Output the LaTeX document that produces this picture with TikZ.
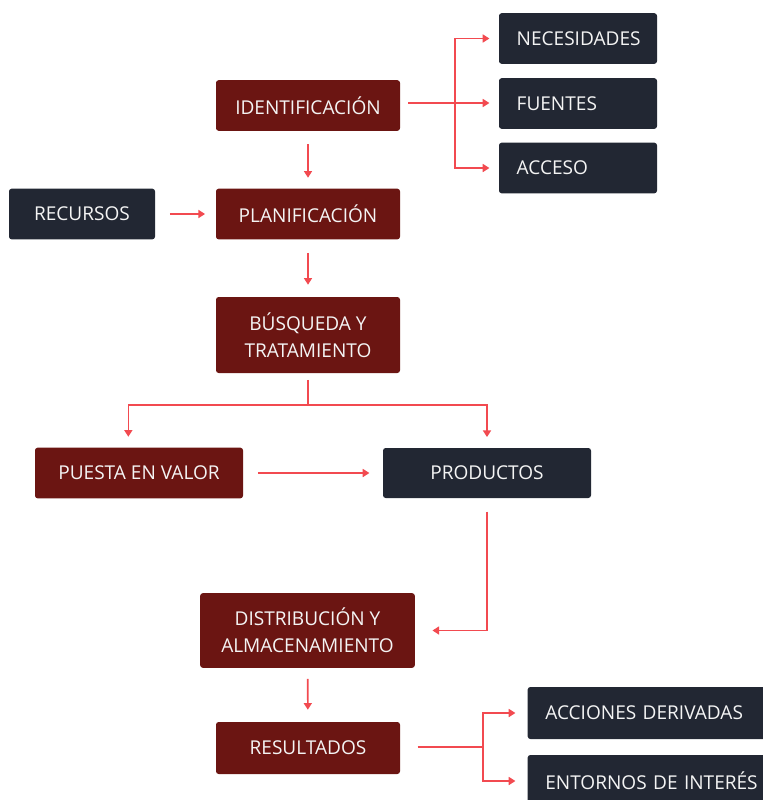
\documentclass[tikz,border=0pt]{standalone}
\usepackage{fontspec}
\setmainfont{Open Sans}
\usetikzlibrary{positioning, arrows.meta, calc}

\definecolor{stepred}{HTML}{6B1512}
\definecolor{darknavy}{HTML}{222733}
\definecolor{linkred}{HTML}{F24A50}
\definecolor{boxtext}{HTML}{F4F4F4}

\begin{document}
\begin{tikzpicture}[
    x=0.75pt, y=-0.75pt,
    stepnode/.style={rectangle, rounded corners=2pt, fill=stepred, text=boxtext, align=center,
        minimum width=138pt, minimum height=38pt, inner sep=2pt,
        font=\fontsize{14.3}{20.2}\selectfont},
    infonode/.style={rectangle, rounded corners=2pt, fill=darknavy, text=boxtext, align=left,
        inner xsep=13.25pt, minimum height=38pt, font=\fontsize{14.3}{20.2}\selectfont},
    link/.style={draw=linkred, line width=1.2pt, -{Triangle[width=6pt,length=5pt]}},
    plainlink/.style={draw=linkred, line width=1.2pt}
]
\useasboundingbox (0,0) rectangle (763,800);
\clip (0,0) rectangle (763,800);

\node[stepnode](ident) at (308,105.5){IDENTIFICACIÓN};
\node[infonode, text width=92pt](nec) at (578,38.5){NECESIDADES};
\node[infonode, text width=92pt](fue) at (578,103.5){FUENTES};
\node[infonode, text width=92pt](acc) at (578,168){ACCESO};

\node[infonode, align=center, text width=83pt](rec) at (82,214){RECURSOS};
\node[stepnode](plan) at (308,214){PLANIFICACIÓN};
\node[stepnode, minimum height=57pt](busq) at (308,335){BÚSQUEDA Y\\TRATAMIENTO};

\node[stepnode, minimum width=156pt](puesta) at (139,473){PUESTA EN VALOR};
\node[infonode, align=center, text width=129.5pt, minimum height=37.5pt](prod) at (487,473){PRODUCTOS};

\node[stepnode, minimum width=161pt, minimum height=56pt](dist) at (307.5,630.5){DISTRIBUCIÓN Y\\ALMACENAMIENTO};
\node[stepnode, minimum height=39pt](res) at (308,748){RESULTADOS};
\node[infonode, text width=166pt, minimum height=39pt](accn) at (656,713){\mbox{ACCIONES DERIVADAS}};
\node[infonode, text width=166pt, minimum height=39pt](ent) at (656,781){\mbox{ENTORNOS DE INTERÉS}};

% split points
\coordinate (sp1) at (455,103);
\coordinate (sp2) at (308,405);
\coordinate (sp3) at (483,747);

\draw[plainlink, shorten <=6pt] (ident.east |- sp1) -- (sp1);
\draw[link, shorten >=7pt] (sp1) |- (nec.west);
\draw[link, shorten >=7pt] (sp1) -- (fue.west |- sp1);
\draw[link, shorten >=7pt] (sp1) |- (acc.west);

\draw[link, shorten <=10pt, shorten >=8pt] (ident) -- (plan);
\draw[link, shorten <=11pt, shorten >=8pt] (rec) -- (plan);
\draw[link, shorten <=10pt, shorten >=9pt] (plan) -- (busq);

\draw[plainlink, shorten <=5pt] (busq) -- (sp2);
\draw[link, shorten >=8pt] (sp2) -| ([xshift=-8pt]puesta.north);
\draw[link, shorten >=8pt] (sp2) -| (prod.north);

\draw[link, shorten <=11pt, shorten >=10pt] (puesta) -- (prod);
\draw[link, shorten <=10pt, shorten >=13pt] (prod.south) |- (dist.east);

\draw[link, shorten <=8pt, shorten >=9pt] (dist) -- (res);
\draw[plainlink, shorten <=13pt] (res.east |- sp3) -- (sp3);
\draw[link, shorten >=9pt] (sp3) |- (accn.west);
\draw[link, shorten >=9pt] (sp3) |- (ent.west);
\end{tikzpicture}
\end{document}
